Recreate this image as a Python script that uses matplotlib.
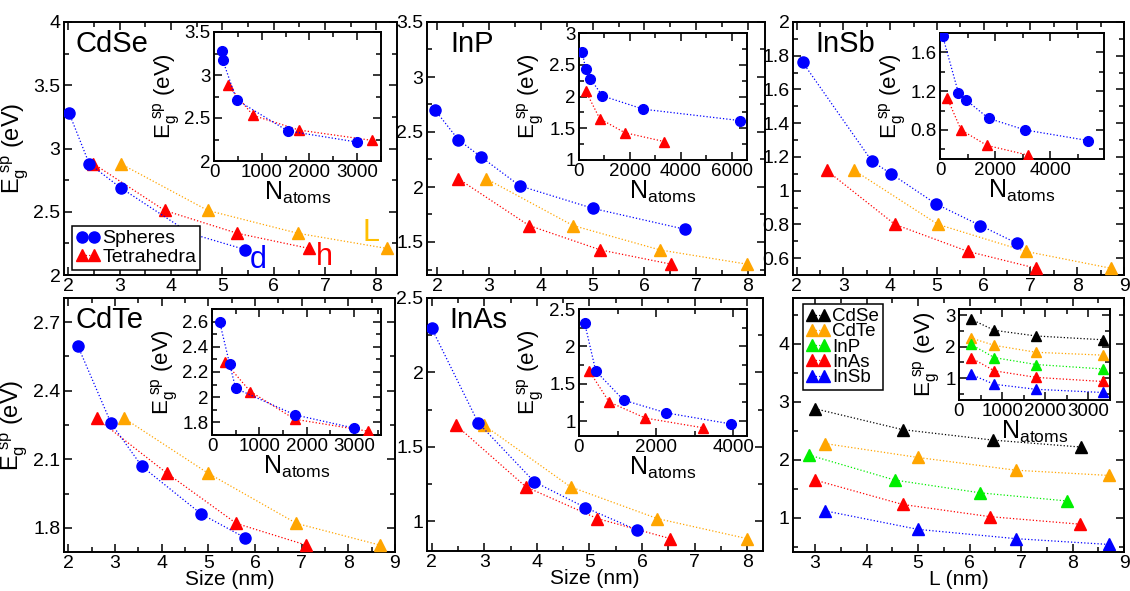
import matplotlib
matplotlib.use('Agg')
import matplotlib.pyplot as plt
from matplotlib.ticker import MultipleLocator

plt.rcParams['font.family'] = ['Liberation Sans', 'DejaVu Sans']
plt.rcParams['mathtext.default'] = 'regular'

BLUE = '#0000ff'
RED = '#ff0000'
ORANGE = '#ffa500'
GREEN = '#00ee00'
BLACK = '#000000'

# ---- CdSe ----
cdse_sph_d = [2.02, 2.41, 3.02, 4.37, 5.45]
cdse_sph_e = [3.28, 2.88, 2.69, 2.33, 2.20]
cdse_tet_h = [2.49, 3.88, 5.29, 6.69]
cdse_tet_L = [3.02, 4.72, 6.47, 8.20]
cdse_tet_e = [2.88, 2.51, 2.33, 2.21]
cdse_in_sph_n = [163, 185, 473, 1544, 3000]
cdse_in_sph_e = [3.28, 3.17, 2.71, 2.35, 2.22]
cdse_in_tet_n = [297, 820, 1782, 3307]
cdse_in_tet_e = [2.88, 2.53, 2.36, 2.24]

# ---- InP ----
inp_sph_d = [1.955, 2.405, 2.84, 3.595, 5.01, 6.79]
inp_sph_e = [2.70, 2.43, 2.275, 2.01, 1.805, 1.615]
inp_tet_h = [2.405, 3.77, 5.15, 6.52]
inp_tet_L = [2.945, 4.62, 6.30, 7.99]
inp_tet_e = [2.075, 1.65, 1.428, 1.298]
inp_in_sph_n = [130, 260, 445, 920, 2530, 6340]
inp_in_sph_e = [2.70, 2.43, 2.28, 2.01, 1.80, 1.62]
inp_in_tet_n = [260, 815, 1800, 3350]
inp_in_tet_e = [2.09, 1.65, 1.43, 1.29]

# ---- InSb ----
insb_sph_d = [2.13, 3.61, 4.02, 4.98, 5.93, 6.71]
insb_sph_e = [1.76, 1.174, 1.10, 0.921, 0.793, 0.688]
insb_tet_h = [2.64, 4.10, 5.66, 7.12]
insb_tet_L = [3.23, 5.02, 6.90, 8.72]
insb_tet_e = [1.12, 0.80, 0.64, 0.54]
insb_in_sph_n = [95, 670, 940, 1760, 3080, 5380]
insb_in_sph_e = [1.77, 1.18, 1.11, 0.92, 0.80, 0.69]
insb_in_tet_n = [260, 765, 1705, 3200]
insb_in_tet_e = [1.13, 0.80, 0.64, 0.54]

# ---- CdTe ----
cdte_sph_d = [2.21, 2.92, 3.58, 4.85, 5.79]
cdte_sph_e = [2.594, 2.257, 2.069, 1.861, 1.757]
cdte_tet_h = [2.61, 4.11, 5.60, 7.10]
cdte_tet_L = [3.20, 4.99, 6.89, 8.68]
cdte_tet_e = [2.279, 2.040, 1.820, 1.725]
cdte_in_sph_n = [160, 375, 500, 1750, 3000]
cdte_in_sph_e = [2.60, 2.26, 2.07, 1.86, 1.755]
cdte_in_tet_n = [270, 810, 1750, 3300]
cdte_in_tet_e = [2.28, 2.045, 1.825, 1.73]

# ---- InAs ----
inas_sph_d = [2.0, 2.885, 3.95, 4.92, 5.91]
inas_sph_e = [2.296, 1.661, 1.265, 1.092, 0.94]
inas_tet_h = [2.46, 3.79, 5.15, 6.54]
inas_tet_L = [2.99, 4.64, 6.29, 8.0]
inas_tet_e = [1.646, 1.231, 1.018, 0.883]
inas_in_sph_n = [148, 435, 1157, 2260, 3957]
inas_in_sph_e = [2.31, 1.67, 1.28, 1.11, 0.96]
inas_in_tet_n = [260, 783, 1722, 3217]
inas_in_tet_e = [1.675, 1.255, 1.04, 0.91]

# ---- summary (tetrahedra, edge length L) ----
sum_names = ['CdSe', 'CdTe', 'InP', 'InAs', 'InSb']
sum_colors = [BLACK, ORANGE, GREEN, RED, BLUE]
sum_L = [[3.0, 4.70, 6.45, 8.16],
         [3.19, 5.0, 6.9, 8.71],
         [2.89, 4.55, 6.21, 7.89],
         [3.0, 4.70, 6.39, 8.14],
         [3.19, 5.0, 6.9, 8.71]]
sum_e = [[2.88, 2.52, 2.34, 2.22],
         [2.28, 2.04, 1.82, 1.73],
         [2.08, 1.65, 1.43, 1.29],
         [1.65, 1.23, 1.02, 0.89],
         [1.12, 0.80, 0.64, 0.54]]
sum_n = [270, 820, 1790, 3330]

W, H = 1130, 591
fig = plt.figure(figsize=(W / 100, H / 100), dpi=100)


def add_ax(l, r, t, b):
    return fig.add_axes([l / W, 1 - b / H, (r - l) / W, (b - t) / H])


def style(ax, xmaj, xmin, ymaj, ymin, size=14):
    ax.xaxis.set_major_locator(MultipleLocator(xmaj))
    ax.xaxis.set_minor_locator(MultipleLocator(xmin))
    ax.yaxis.set_major_locator(MultipleLocator(ymaj))
    ax.yaxis.set_minor_locator(MultipleLocator(ymin))
    ax.tick_params(which='both', direction='in', top=True, right=True,
                   labelsize=size, width=1.1, pad=2.5)
    ax.tick_params(which='major', length=6)
    ax.tick_params(which='minor', length=3.5)
    for s in ax.spines.values():
        s.set_linewidth(1.4)


def fmt(v, pos):
    return '%g' % v


def series(ax, x, y, c, m, ms):
    ax.plot(x, y, ls=':', lw=0.9, color=c, marker=m, ms=ms, mec=c, mfc=c,
            zorder=3)


ELABEL = '$E_g^{\\ sp}$ (eV)'
NLABEL = '$N_{atoms}$'

main_specs = [
    ('CdSe', (64, 397, 22, 275), (1.92, 8.4), (2, 4), 0.5, 0.25,
     cdse_sph_d, cdse_sph_e, cdse_tet_h, cdse_tet_L, cdse_tet_e,
     (214, 381, 32, 161), (0, 3500), (2, 3.5), 1000, 500, 0.5, 0.25,
     cdse_in_sph_n, cdse_in_sph_e, cdse_in_tet_n, cdse_in_tet_e),
    ('InP', (427, 765, 22, 275), (1.8, 8.33), (1.2, 3.5), 0.5, 0.25,
     inp_sph_d, inp_sph_e, inp_tet_h, inp_tet_L, inp_tet_e,
     (579, 747, 33, 160), (0, 6600), (1, 3), 2000, 1000, 0.5, 0.25,
     inp_in_sph_n, inp_in_sph_e, inp_in_tet_n, inp_in_tet_e),
    ('InSb', (793, 1124, 22, 275), (1.92, 9.0), (0.5, 2.0), 0.2, 0.1,
     insb_sph_d, insb_sph_e, insb_tet_h, insb_tet_L, insb_tet_e,
     (940, 1104, 33, 159), (0, 5950), (0.5, 1.8), 2000, 1000, 0.4, 0.2,
     insb_in_sph_n, insb_in_sph_e, insb_in_tet_n, insb_in_tet_e),
    ('CdTe', (64, 395, 298, 552), (1.91, 9.0), (1.695, 2.805), 0.3, 0.15,
     cdte_sph_d, cdte_sph_e, cdte_tet_h, cdte_tet_L, cdte_tet_e,
     (212, 381, 309, 435), (0, 3570), (1.7, 2.7), 1000, 500, 0.2, 0.1,
     cdte_in_sph_n, cdte_in_sph_e, cdte_in_tet_n, cdte_in_tet_e),
    ('InAs', (427, 763, 298, 551), (1.91, 8.3), (0.8, 2.5), 0.5, 0.25,
     inas_sph_d, inas_sph_e, inas_tet_h, inas_tet_L, inas_tet_e,
     (579, 747, 309, 436), (0, 4360), (0.8, 2.5), 2000, 1000, 0.5, 0.25,
     inas_in_sph_n, inas_in_sph_e, inas_in_tet_n, inas_in_tet_e),
]

for i, sp in enumerate(main_specs):
    (name, box, xl, yl, ymaj, ymin, sd, se, th, tL, te,
     ibox, ixl, iyl, ixmaj, ixmin, iymaj, iymin, isn, ise, itn, ite) = sp
    ax = add_ax(*box)
    series(ax, tL, te, ORANGE, '^', 8.5)
    series(ax, th, te, RED, '^', 8.5)
    series(ax, sd, se, BLUE, 'o', 8)
    ax.set_xlim(*xl)
    ax.set_ylim(*yl)
    style(ax, 1, 0.5, ymaj, ymin)
    ax.yaxis.set_major_formatter(fmt)
    ax.xaxis.set_major_formatter(fmt)
    ax.text(0.035 if name.startswith('Cd') else 0.068, 0.97, name,
            transform=ax.transAxes, fontsize=21, va='top', ha='left')
    if i % 3 == 0:
        ax.set_ylabel(ELABEL, fontsize=17, labelpad=2)
    if i >= 3:
        ax.set_xlabel('Size (nm)', fontsize=15, labelpad=-1.5)
    if name == 'CdSe':
        h1, = ax.plot([], [], ls=':', lw=0.9, color=BLUE, marker='o', ms=8)
        h2, = ax.plot([], [], ls=':', lw=0.9, color=RED, marker='^', ms=8.5)
        leg = ax.legend([h1, h2], ['Spheres', 'Tetrahedra'], numpoints=2,
                        loc='lower left', bbox_to_anchor=(0.025, 0.02),
                        fontsize=14, fancybox=False, edgecolor='black',
                        framealpha=1, handlelength=1.2, handletextpad=0.15,
                        labelspacing=0.05, borderpad=0.2, borderaxespad=0)
        leg.get_frame().set_linewidth(1.1)
        ax.text(5.69, 2.12, 'd', color=BLUE, fontsize=22, ha='center', va='center')
        ax.text(6.99, 2.14, 'h', color=RED, fontsize=22, ha='center', va='center')
        ax.text(7.89, 2.33, 'L', color='#ffbf00', fontsize=22, ha='center', va='center')

    ia = add_ax(*ibox)
    series(ia, itn, ite, RED, '^', 7.5)
    series(ia, isn, ise, BLUE, 'o', 7)
    ia.set_xlim(*ixl)
    ia.set_ylim(*iyl)
    style(ia, ixmaj, ixmin, iymaj, iymin, size=13.5)
    ia.yaxis.set_major_formatter(fmt)
    ia.set_ylabel(ELABEL, fontsize=16, labelpad=2)
    ia.set_xlabel(NLABEL, fontsize=18, labelpad=-1)

# ---- summary panel ----
ax = add_ax(793, 1124, 298, 552)
handles = []
for name, c, L, e in zip(sum_names, sum_colors, sum_L, sum_e):
    h, = ax.plot(L, e, ls=':', lw=0.9, color=c, marker='^', ms=8.5, mec=c, mfc=c)
    handles.append(h)
ax.set_xlim(2.57, 9.0)
ax.set_ylim(0.41, 4.79)
style(ax, 1, 0.5, 1, 0.5)
ax.set_xticks([3, 4, 5, 6, 7, 8, 9])
ax.set_xlabel('L (nm)', fontsize=15, labelpad=-1.5)
leg = ax.legend(handles, sum_names, numpoints=2, loc='upper left',
                bbox_to_anchor=(0.03, 0.975), fontsize=13.5, fancybox=False,
                edgecolor='black', framealpha=1, handlelength=1.2,
                handletextpad=0.15, labelspacing=-0.1, borderpad=0.2,
                borderaxespad=0)
leg.get_frame().set_linewidth(1.1)

ia = add_ax(959, 1110, 309, 400)
for c, e in zip(sum_colors, sum_e):
    series(ia, sum_n, e, c, '^', 7.5)
ia.set_xlim(0, 3500)
ia.set_ylim(0.3, 3.2)
style(ia, 1000, 500, 1, 0.5, size=13.5)
ia.set_ylabel(ELABEL, fontsize=16, labelpad=2)
ia.set_xlabel(NLABEL, fontsize=18, labelpad=-1)

fig.savefig('out.png', dpi=100)
